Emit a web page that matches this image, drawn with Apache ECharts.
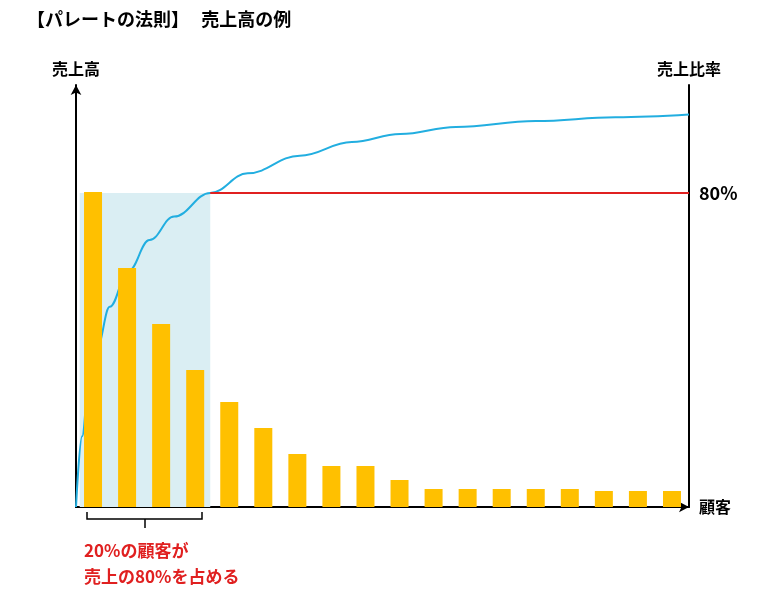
<!DOCTYPE html><html><head><meta charset="utf-8"><script src="https://cdn.jsdelivr.net/npm/echarts@6/dist/echarts.min.js"></script></head><body style="margin:0"><div id="c" style="width:768px;height:605px"></div><script>
const customers=['1','2','3','4','5','6','7','8','9','10','11','12','13','14','15','16','17','18'];
const sales=[315,239,183,137,105,79,53,41,41,27,18,18,18,18,18,16,16,16];
const cumX=[0,1,2,3.5,5.5,8.5,12,16,21.9,28,36.5,45,52.9,62,75,88,100];
const cumY=[0,18,30,41,51,60,68,74,80,85,89.5,93,95,96.8,98.3,99.3,100];
const f='"Noto Sans CJK JP",sans-serif';
const ch=echarts.init(document.getElementById('c'));
ch.setOption({
 title:{text:'【パレートの法則】   売上高の例',left:22,top:5,textStyle:{fontFamily:f,fontSize:18,fontWeight:'bold',color:'#000'}},
 grid:{left:76,right:79,top:85,bottom:98},
 xAxis:[{type:'category',data:customers,axisLine:{lineStyle:{color:'#000',width:2},symbol:['none','arrow'],symbolSize:[8,10]},axisTick:{show:false},axisLabel:{show:false},name:'顧客',nameGap:10,nameTextStyle:{fontFamily:f,fontSize:16,fontWeight:'bold',color:'#000'}},
 {type:'value',min:0,max:100,show:false}],
 yAxis:[{type:'value',min:0,max:422,splitLine:{show:false},axisTick:{show:false},axisLabel:{show:false},axisLine:{show:true,lineStyle:{color:'#000',width:2},symbol:['none','arrow'],symbolSize:[8,10]},name:'売上高',nameGap:8,nameTextStyle:{fontFamily:f,fontSize:16,fontWeight:'bold',color:'#000',align:'center'}},
 {type:'value',min:0,max:107.5,position:'right',splitLine:{show:false},axisTick:{show:false},axisLabel:{show:false},axisLine:{show:true,lineStyle:{color:'#000',width:2}},name:'売上比率',nameGap:8,nameTextStyle:{fontFamily:f,fontSize:16,fontWeight:'bold',color:'#000',align:'center'}}],
 series:[
 {type:'line',xAxisIndex:1,yAxisIndex:1,smooth:0.4,smoothMonotone:'x',symbol:'none',z:3,data:cumX.map((x,i)=>[x,cumY[i]]),lineStyle:{color:'#22aee0',width:2},
  markArea:{silent:true,itemStyle:{color:'#daeef3'},data:[[{coord:[0.6,0]},{coord:[21.9,80]}]]},
  markLine:{silent:true,symbol:'none',lineStyle:{color:'#e02020',width:2,type:'solid'},label:{show:true,position:'end',formatter:'80%',fontFamily:f,fontSize:18,fontWeight:'bold',color:'#000',distance:10},data:[[{coord:[21.9,80]},{coord:[100,80]}]]}},
 {type:'bar',data:sales,barWidth:18,itemStyle:{color:'#ffc000'},z:4}
 ],
 graphic:[
 {type:'polyline',shape:{points:[[87,512],[87,519],[202,519],[202,512]]},style:{stroke:'#000',lineWidth:1.5,fill:null}},
 {type:'line',shape:{x1:145,y1:519,x2:145,y2:528},style:{stroke:'#000',lineWidth:1.5}},
 {type:'text',left:84,top:538,style:{text:'20%の顧客が\n売上の80%を占める',fill:'#e02020',font:'bold 17px '+f,lineHeight:26}}
 ]
});
</script></body></html>
